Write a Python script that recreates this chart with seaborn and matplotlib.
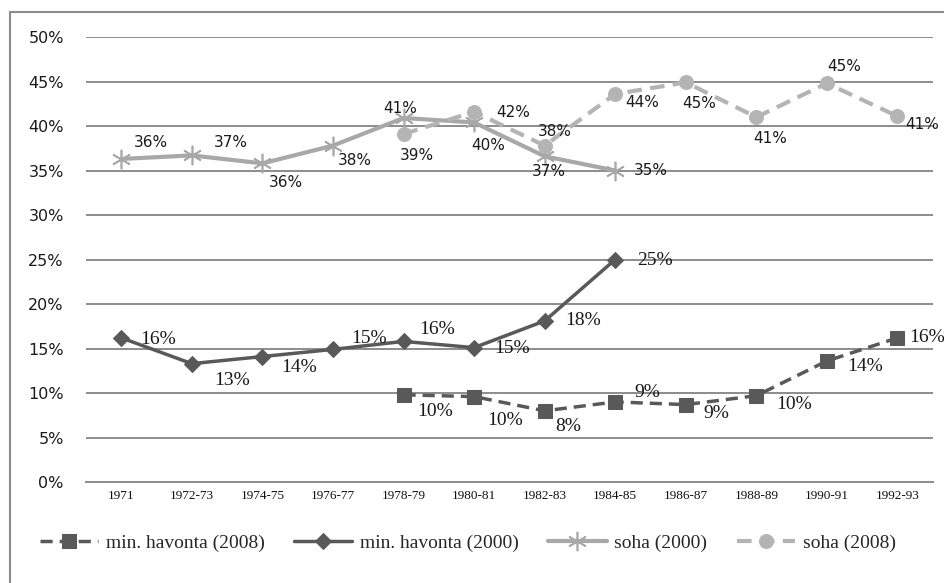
import numpy as np
import pandas as pd
import matplotlib
matplotlib.use("Agg")
import matplotlib.pyplot as plt
import seaborn as sns

# periods on the x axis
periods = ["1971", "1972-73", "1974-75", "1976-77", "1978-79", "1980-81",
           "1982-83", "1984-85", "1986-87", "1988-89", "1990-91", "1992-93"]

# values in percent, NaN where the series has no point
havonta_2008 = [np.nan, np.nan, np.nan, np.nan, 9.8, 9.6, 8.0, 9.0, 8.7, 9.7, 13.6, 16.2]
havonta_2000 = [16.2, 13.3, 14.1, 14.9, 15.8, 15.1, 18.1, 25.0, np.nan, np.nan, np.nan, np.nan]
soha_2000 = [36.3, 36.7, 35.8, 37.8, 40.9, 40.4, 36.6, 35.0, np.nan, np.nan, np.nan, np.nan]
soha_2008 = [np.nan, np.nan, np.nan, np.nan, 39.1, 41.6, 37.8, 43.6, 44.9, 41.0, 44.8, 41.1]

# where each data label sits relative to its point (pixels right, pixels up)
off_h2008 = [None] * 4 + [(32, -17), (31, -24), (24, -16), (32, 9), (31, -9), (38, -9), (38, -6), (30, 0)]
off_h2000 = [(37, -2), (40, -17), (37, -11), (36, 11), (34, 12), (38, -1), (38, 0), (40, -1)] + [None] * 4
off_s2000 = [(30, 16), (39, 13), (23, -19), (22, -15), (-3, 10), (14, -23), (4, -15), (36, 0)] + [None] * 4
off_s2008 = [None] * 4 + [(13, -21), (39, -1), (10, 14), (27, -9), (13, -21), (14, -21), (17, 17), (25, -8)]

sns.set_style("white")
plt.rcParams["font.family"] = ["DejaVu Sans"]

fig = plt.figure(figsize=(9.45, 5.83), dpi=100)
ax = fig.add_axes([0.091, 0.1732, 0.896, 0.7633])

x = np.arange(len(periods))
dark = "#595959"
light = "#a8a8a8"
light2 = "#b4b4b4"

series = [
    ("min. havonta (2008)", havonta_2008, dict(color=dark, marker="s", markersize=10, linewidth=2.5,
                                                 linestyle=(0, (3.5, 2)), markeredgecolor=dark), off_h2008, "serif"),
    ("min. havonta (2000)", havonta_2000, dict(color=dark, marker="D", markersize=8, linewidth=2.5,
                                                 markeredgecolor=dark), off_h2000, "serif"),
    ("soha (2000)", soha_2000, dict(color=light, marker=(6, 2, 0), markersize=14, linewidth=3,
                                    markeredgecolor=light, markeredgewidth=1.2), off_s2000, "sans"),
    ("soha (2008)", soha_2008, dict(color=light2, marker="o", markersize=10, linewidth=3,
                                    linestyle=(0, (3.5, 2)), markeredgecolor=light2), off_s2008, "sans"),
]

for name, vals, style, offs, fam in series:
    df = pd.DataFrame({"x": x, "y": vals}).dropna()
    sns.lineplot(data=df, x="x", y="y", ax=ax, label=name, **style)
    for xi, yi in zip(df["x"], df["y"]):
        dx, dy = offs[xi]
        if fam == "serif":
            ax.annotate(f"{round(yi)}%", (xi, yi), xytext=(dx, dy), textcoords="offset pixels",
                        ha="center", va="center", fontsize=14, family="Liberation Serif", color="#1a1a1a")
        else:
            ax.annotate(f"{round(yi)}%", (xi, yi), xytext=(dx, dy), textcoords="offset pixels",
                        ha="center", va="center", fontsize=11, family="DejaVu Sans", color="#1a1a1a")

ax.set_xlim(-0.5, len(periods) - 0.5)
ax.set_ylim(0, 50)
ax.set_yticks(np.arange(0, 51, 5))
ax.set_yticklabels([f"{v}%" for v in range(0, 51, 5)], fontsize=11.5, color="#1a1a1a")
ax.set_xticks(x)
ax.set_xticklabels(periods, fontsize=9.5, family="Liberation Serif", color="#111111")
ax.set_xticks(np.arange(-0.5, len(periods), 1), minor=True)
ax.tick_params(axis="x", which="major", length=0, pad=6)
ax.tick_params(axis="x", which="minor", length=5, color="#8c8c8c", width=1.2)
ax.tick_params(axis="y", length=0, pad=16)
ax.grid(axis="y", color="#8c8c8c", linewidth=1.4)
ax.set_axisbelow(True)
for s in ["top", "right", "left"]:
    ax.spines[s].set_visible(False)
ax.spines["bottom"].set_color("#8c8c8c")
ax.spines["bottom"].set_linewidth(1.4)
ax.set_xlabel("")
ax.set_ylabel("")

handles, labels = ax.get_legend_handles_labels()
ax.legend_.remove()
fig.legend(handles, labels, loc="center", bbox_to_anchor=(0.495, 0.069), ncol=4, frameon=False,
           handlelength=3.0, columnspacing=1.5, handletextpad=0.4,
           prop={"family": "Liberation Serif", "size": 14})

# outer chart frame
fig.patches.append(plt.Rectangle((10 / 945, -0.01), 1.0, 1 - 12 / 583 + 0.01, transform=fig.transFigure,
                                 fill=False, edgecolor="#8c8c8c", linewidth=1.5))

fig.savefig("out.png", dpi=100)
